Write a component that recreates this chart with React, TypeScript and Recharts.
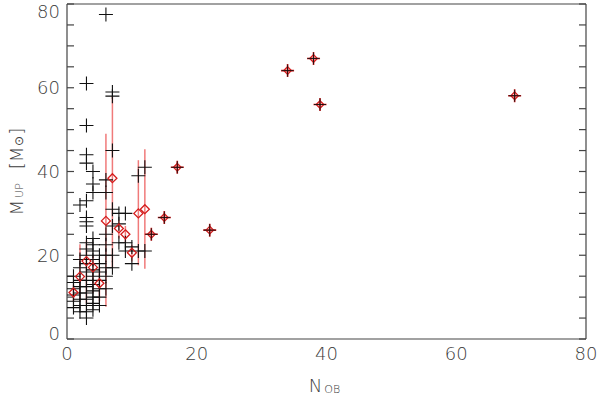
import React from 'react';
import { ScatterChart, Scatter, XAxis, YAxis, ErrorBar } from 'recharts';

// Black crosses: N_OB, M_up
const blackN = [
  1, 1, 1, 1, 1, 1,
  2, 2, 2, 2, 2, 2, 2, 2, 2,
  3, 3, 3, 3, 3, 3, 3, 3, 3, 3, 3, 3, 3, 3, 3, 3, 3, 3, 3, 3,
  4, 4, 4, 4, 4, 4, 4, 4, 4, 4, 4, 4, 4, 4,
  5, 5, 5, 5, 5, 5, 5,
  6, 6, 6, 6, 6, 6, 6, 6, 6,
  7, 7, 7, 7, 7, 7, 7,
  8, 8, 8,
  9, 9, 9,
  10, 10,
  11, 11,
  12, 12,
];
const blackM = [
  7.5, 9, 10.5, 12, 13.5, 15,
  6.5, 8, 9.5, 11, 12.5, 14, 17, 19, 32,
  5, 6.5, 8, 9.5, 11, 12.5, 14, 16, 18, 20, 21.5, 23, 27, 28, 29, 33, 42, 44, 51, 61,
  7, 8.5, 10, 11.5, 13, 15, 16.5, 19, 21, 22.5, 24, 35, 37, 40,
  8, 10, 12, 14, 16, 18, 20,
  12, 15, 17, 20, 22.5, 25, 35, 38, 77.5,
  17, 20, 27, 31, 45, 58, 59,
  23, 27.5, 30,
  21, 23, 30,
  18, 22,
  21, 39,
  21, 41,
];

// Red diamonds with error bars
const redN = [1, 2, 3, 4, 5, 6, 7, 8, 9, 10, 11, 12];
const redM = [11.1, 14.9, 18.6, 17.1, 13.3, 28.2, 38.4, 26.4, 25, 20.6, 30, 31];
const redLo = [9, 9, 8.5, 11, 9, 7.7, 17, 24, 23, 18.5, 17.6, 16.8];
const redHi = [13, 22.6, 23.6, 20, 17, 49, 58, 28.5, 27, 22.5, 42.7, 45.3];

// Large-N points (red diamond + cross)
const bigN = [13, 15, 17, 22, 34, 38, 39, 69];
const bigM = [25, 29, 41, 26, 64.1, 67, 56, 58.1];

const majorTicks = [0, 20, 40, 60, 80];
const minorTicks = [0, 5, 10, 15, 20, 25, 30, 35, 40, 45, 50, 55, 60, 65, 70, 75, 80];

const blackData = blackN.map((n, i) => ({ n, m: blackM[i] }));
const redData = redN.map((n, i) => ({ n, m: redM[i], err: [redM[i] - redLo[i], redHi[i] - redM[i]] }));
const bigData = bigN.map((n, i) => ({ n, m: bigM[i] }));

const FONT = '"DejaVu Sans", "Liberation Sans", sans-serif';
const TXT = '#3c3c3c';
const AX = '#444';
const RED = '#d41c1c';

const Cross = (p: any) => {
  const { cx, cy } = p;
  return <path d={`M${cx - 7},${cy}H${cx + 7}M${cx},${cy - 7}V${cy + 7}`} stroke="#111" strokeWidth={1.1} fill="none" />;
};

const Diamond = (p: any) => {
  const { cx, cy } = p;
  const s = 4.5;
  return <path d={`M${cx},${cy - s}L${cx + s},${cy}L${cx},${cy + s}L${cx - s},${cy}Z`} stroke={RED} strokeWidth={1.3} fill="none" />;
};

const BigMark = (p: any) => {
  const { cx, cy } = p;
  const s = 3.8;
  return (
    <g>
      <path d={`M${cx - 6.5},${cy}H${cx + 6.5}M${cx},${cy - 6.5}V${cy + 6.5}`} stroke={RED} strokeWidth={1.6} fill="none" />
      <path d={`M${cx},${cy - s}L${cx + s},${cy}L${cx},${cy + s}L${cx - s},${cy}Z`} stroke={RED} strokeWidth={1.3} fill="none" />
      <path d={`M${cx - 6},${cy}H${cx + 6}M${cx},${cy - 6}V${cy + 6}`} stroke="#111" strokeWidth={0.9} fill="none" />
    </g>
  );
};

const Empty = () => <g />;

const XTick = (p: any) => {
  const { x, y, payload } = p;
  return (
    <text x={x} y={y} dy={13} textAnchor="middle" fontSize={18} fill={TXT} fontFamily={FONT} fontWeight={200}>
      {payload.value}
    </text>
  );
};

const YTick = (p: any) => {
  const { x, y, payload } = p;
  const off = payload.value === 80 ? 7.5 : payload.value === 0 ? -6 : 0;
  return (
    <text x={x} y={y + off} dy={6.5} textAnchor="end" fontSize={18} fill={TXT} fontFamily={FONT} fontWeight={200}>
      {payload.value}
    </text>
  );
};

const XLabel = (p: any) => {
  const vb = p.viewBox || { x: 67, y: 339, width: 519, height: 58 };
  const cx = vb.x + vb.width / 2;
  return (
    <text x={cx - 2} y={vb.y + 53} textAnchor="middle" fontSize={18} fill={TXT} fontFamily={FONT} fontWeight={200}>
      N<tspan fontSize={11} dx={2} dy={1}>OB</tspan>
    </text>
  );
};

const YLabel = (p: any) => {
  const vb = p.viewBox || { x: 0, y: 4, width: 67, height: 335 };
  const cy = vb.y + vb.height / 2;
  const bx = 23;
  return (
    <text
      x={bx}
      y={cy}
      transform={`rotate(-90 ${bx} ${cy})`}
      textAnchor="middle"
      fontSize={18}
      fill={TXT}
      fontFamily={FONT}
      fontWeight={200}
    >
      M<tspan fontSize={11} dx={2}>UP</tspan>
      <tspan dx={14}>[M</tspan>
      <tspan fontSize={12} dx={1}>⊙</tspan>
      <tspan dx={1}>]</tspan>
    </text>
  );
};

const frameAxis = {
  type: 'number' as const,
  domain: [0, 80] as [number, number],
  allowDataOverflow: true,
  ticks: minorTicks,
  interval: 0 as const,
  mirror: true,
  tick: Empty,
  tickSize: 7,
  axisLine: { stroke: AX, strokeWidth: 1.2 },
  tickLine: { stroke: AX, strokeWidth: 1.2 },
};

export default function App() {
  return (
    <div style={{ position: 'absolute', left: 0, top: 0, width: 600, height: 397, background: '#fff' }}>
      <ScatterChart width={600} height={397} margin={{ top: 4, right: 14, bottom: 0, left: 0 }}>
        <XAxis
          xAxisId="main"
          dataKey="n"
          type="number"
          domain={[0, 80]}
          allowDataOverflow
          ticks={majorTicks}
          interval={0}
          height={58}
          axisLine={false}
          tickLine={false}
          tickSize={0}
          tickMargin={8}
          tick={XTick}
          label={<XLabel />}
        />
        <XAxis xAxisId="bm" orientation="bottom" {...frameAxis} />
        <XAxis xAxisId="tm" orientation="top" {...frameAxis} />
        <YAxis
          yAxisId="main"
          dataKey="m"
          type="number"
          domain={[0, 80]}
          allowDataOverflow
          ticks={majorTicks}
          interval={0}
          width={67}
          axisLine={false}
          tickLine={false}
          tickSize={0}
          tickMargin={7}
          tick={YTick}
          label={<YLabel />}
        />
        <YAxis yAxisId="lm" orientation="left" {...frameAxis} />
        <YAxis yAxisId="rm" orientation="right" {...frameAxis} />
        <Scatter xAxisId="main" yAxisId="main" data={redData} dataKey="m" shape={<Empty />} isAnimationActive={false}>
          <ErrorBar dataKey="err" direction="y" width={0} stroke="#f07a7a" strokeWidth={1.5} isAnimationActive={false} />
        </Scatter>
        <Scatter xAxisId="main" yAxisId="main" data={blackData} dataKey="m" shape={<Cross />} isAnimationActive={false} />
        <Scatter xAxisId="main" yAxisId="main" data={redData} dataKey="m" shape={<Diamond />} isAnimationActive={false} />
        <Scatter xAxisId="main" yAxisId="main" data={bigData} dataKey="m" shape={<BigMark />} isAnimationActive={false} />
      </ScatterChart>
    </div>
  );
}
